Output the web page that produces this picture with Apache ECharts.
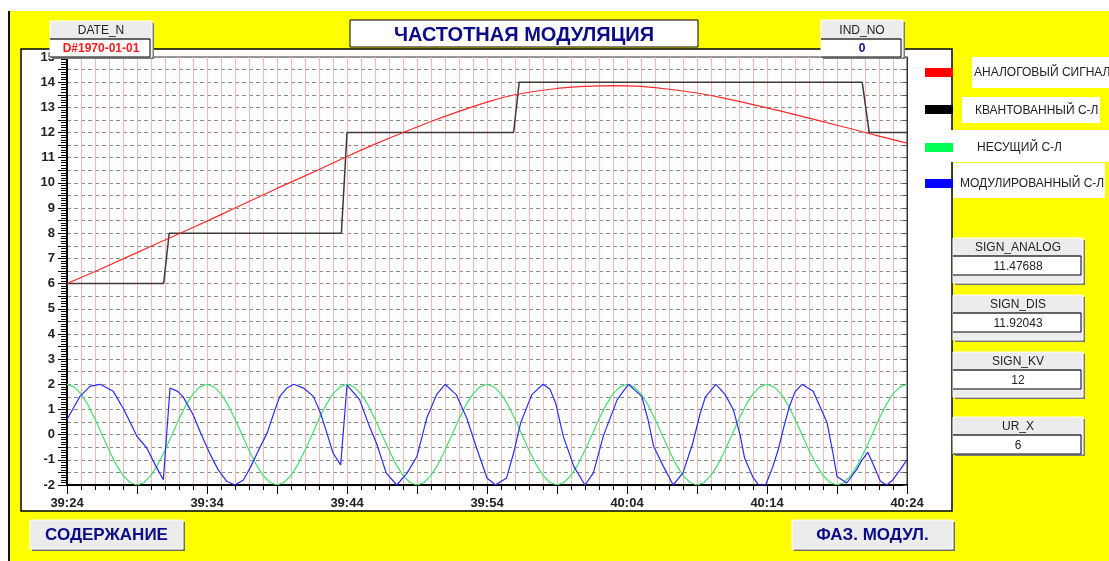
<!DOCTYPE html>
<html>
<head>
<meta charset="utf-8">
<title>ЧАСТОТНАЯ МОДУЛЯЦИЯ</title>
<script src="https://cdn.jsdelivr.net/npm/echarts@6/dist/echarts.min.js"></script>
<style>
  html, body { margin: 0; padding: 0; background: #fff; }
  #chart { width: 1109px; height: 561px; }
</style>
</head>
<body>
<div id="chart"></div>
<script>
// подписи оси времени (каждые 10 с), 0 с = 39:24
const timeLabels = ['39:24', '39:34', '39:44', '39:54', '40:04', '40:14', '40:24']

// аналоговый сигнал, шаг 1 с
const analogValues = [
  6.0, 6.24, 6.48, 6.73, 6.98, 7.23, 7.48, 7.73, 7.98, 8.23,
  8.48, 8.74, 9.0, 9.26, 9.52, 9.78, 10.03, 10.28, 10.53, 10.79,
  11.05, 11.3, 11.54, 11.77, 12.0, 12.22, 12.44, 12.64, 12.84, 13.03,
  13.21, 13.37, 13.5, 13.6, 13.68, 13.75, 13.8, 13.83, 13.85, 13.86,
  13.85, 13.83, 13.78, 13.72, 13.65, 13.57, 13.47, 13.36, 13.24, 13.11,
  12.98, 12.85, 12.71, 12.57, 12.43, 12.29, 12.15, 12.0, 11.86, 11.72,
  11.58
]

// квантованный сигнал: [секунда, уровень]
const quantizedPoints = [
  [0, 6], [6.9, 6], [7.3, 8], [19.6, 8], [20, 12], [31.9, 12],
  [32.3, 14], [56.8, 14], [57.3, 12], [60, 12]
]

// несущий сигнал, шаг 0.5 с
const carrierValues = [
  2, 1.9, 1.62, 1.18, 0.62, 0, -0.62, -1.18, -1.62, -1.9, -2, -1.9, -1.62, -1.18, -0.62, 0, 0.62, 1.18, 1.62, 1.9,
  2, 1.9, 1.62, 1.18, 0.62, 0, -0.62, -1.18, -1.62, -1.9, -2, -1.9, -1.62, -1.18, -0.62, 0, 0.62, 1.18, 1.62, 1.9,
  2, 1.9, 1.62, 1.18, 0.62, 0, -0.62, -1.18, -1.62, -1.9, -2, -1.9, -1.62, -1.18, -0.62, 0, 0.62, 1.18, 1.62, 1.9,
  2, 1.9, 1.62, 1.18, 0.62, 0, -0.62, -1.18, -1.62, -1.9, -2, -1.9, -1.62, -1.18, -0.62, 0, 0.62, 1.18, 1.62, 1.9,
  2, 1.9, 1.62, 1.18, 0.62, 0, -0.62, -1.18, -1.62, -1.9, -2, -1.9, -1.62, -1.18, -0.62, 0, 0.62, 1.18, 1.62, 1.9,
  2, 1.9, 1.62, 1.18, 0.62, 0, -0.62, -1.18, -1.62, -1.9, -2, -1.9, -1.62, -1.18, -0.62, 0, 0.62, 1.18, 1.62, 1.9,
  2
]

// модулированный сигнал: [секунда, значение]
const modulatedPoints = [
  [0, 0.6], [0.5, 1.1], [0.93, 1.52], [1.64, 1.92], [2.36, 2.0], [3.3, 1.72], [4.0, 1.06], [4.5, 0.5],
  [5.0, -0.07], [5.7, -0.53], [6.3, -1.2], [6.88, -1.79], [7.36, 1.85], [7.9, 1.72], [8.3, 1.5],
  [9.0, 0.8], [9.6, 0.0], [10.2, -0.75], [10.8, -1.4], [11.4, -1.85], [12.0, -2.0], [12.6, -1.8],
  [13.1, -1.3], [13.7, -0.6], [14.3, 0.07], [14.8, 0.9], [15.2, 1.52], [15.7, 1.85], [16.2, 2.0],
  [16.9, 1.85], [17.6, 1.52], [18.1, 0.87], [18.6, 0.0], [19.0, -0.73], [19.55, -1.2], [20.0, 1.97],
  [20.5, 1.65], [20.9, 1.39], [21.6, 0.33], [22.1, -0.33], [22.8, -1.52], [23.55, -2.0], [24.3, -1.52],
  [25.0, -0.86], [25.7, 0.66], [26.4, 1.59], [27.0, 2.0], [27.8, 1.59], [28.55, 0.66], [29.3, -0.6],
  [30.0, -1.72], [30.6, -2.0], [31.4, -1.72], [31.9, -0.73], [32.4, 0.46], [33.2, 1.59], [34.0, 2.0],
  [34.5, 1.8], [34.9, 1.26], [35.45, -0.07], [36.2, -1.26], [37.0, -2.0], [37.6, -1.52], [38.3, -0.07],
  [39.3, 1.39], [40.1, 2.0], [41.05, 1.52], [41.5, 0.6], [41.9, -0.46], [42.6, -1.26], [43.3, -2.0],
  [44.0, -1.52], [44.7, -0.33], [45.2, 0.79], [45.6, 1.5], [46.35, 2.0], [47.0, 1.6], [47.6, 0.99],
  [48.1, -0.07], [48.4, -0.93], [49.0, -1.7], [49.4, -2.0], [49.9, -2.0], [50.4, -1.3], [50.8, -0.6],
  [51.2, 0.3], [51.6, 1.12], [52.0, 1.7], [52.5, 2.0], [53.3, 1.72], [53.8, 1.1], [54.3, 0.46],
  [54.7, -0.7], [55.0, -1.66], [55.7, -1.92], [56.4, -1.39], [56.8, -1.0], [57.2, -0.7], [57.6, -1.2],
  [58.1, -1.85], [58.55, -2.0], [59.0, -1.79], [59.5, -1.4], [60, -1.0]
]

const seriesNames = ['АНАЛОГОВЫЙ СИГНАЛ', 'КВАНТОВАННЫЙ С-Л', 'НЕСУЩИЙ С-Л', 'МОДУЛИРОВАННЫЙ С-Л']
const lineColors = ['#ff2a2a', '#3a3a3a', '#3fe36c', '#2a2aff']
const swatchColors = ['#ff0000', '#000000', '#00ff55', '#0000ff']

// поля справа
const fieldNames = ['SIGN_ANALOG', 'SIGN_DIS', 'SIGN_KV', 'UR_X']
const fieldValues = ['11.47688', '11.92043', '12', '6']

const FONT = '"Liberation Sans", Arial, sans-serif'
const NAVY = '#0c0c86'

// поле с заголовком и значением
function field(x, y, w, hHead, hVal, foot, title, value, valueFont, valueColor) {
  const h = hHead + hVal + foot
  const vy = y + hHead
  return [
    { type: 'rect', z: 100, shape: { x: x + 2, y: y + 2, width: w, height: h }, style: { fill: '#7a7a7a' } },
    { type: 'rect', z: 101, shape: { x: x, y: y, width: w, height: h }, style: { fill: '#ececec', stroke: '#ffffff', lineWidth: 1 } },
    { type: 'text', z: 103, style: { text: title, x: x + w / 2, y: y + hHead / 2 + 1, align: 'center', verticalAlign: 'middle', font: '12px ' + FONT, fill: '#222' } },
    { type: 'rect', z: 102, shape: { x: x, y: vy, width: w - 2, height: hVal }, style: { fill: '#ffffff' } },
    { type: 'polyline', z: 103, shape: { points: [[x, vy], [x + w - 2, vy]] }, style: { stroke: '#333', lineWidth: 1.5 } },
    { type: 'polyline', z: 103, shape: { points: [[x + w - 2, vy], [x + w - 2, vy + hVal], [x, vy + hVal]] }, style: { stroke: '#000', lineWidth: 1 } },
    { type: 'text', z: 103, style: { text: value, x: x + w / 2, y: vy + hVal / 2 + 1, align: 'center', verticalAlign: 'middle', font: valueFont, fill: valueColor } }
  ]
}

function button(x, y, w, h, label) {
  return [
    { type: 'rect', z: 100, shape: { x: x + 2, y: y + 2, width: w, height: h }, style: { fill: '#6f6f6f' } },
    { type: 'rect', z: 101, shape: { x: x, y: y, width: w, height: h }, style: { fill: '#ececec', stroke: '#ffffff', lineWidth: 1 } },
    { type: 'text', z: 102, style: { text: label, x: x + w / 2, y: y + h / 2 + 1, align: 'center', verticalAlign: 'middle', font: 'bold 17px ' + FONT, fill: NAVY } }
  ]
}

let graphics = [
  // фон
  { type: 'rect', z: -20, shape: { x: 10, y: 11, width: 1099, height: 550 }, style: { fill: '#ffff00' } },
  { type: 'rect', z: -19, shape: { x: 8, y: 11, width: 2, height: 550 }, style: { fill: '#111' } },
  { type: 'rect', z: -18, shape: { x: 21, y: 49, width: 931, height: 462 }, style: { fill: '#fff', stroke: '#000', lineWidth: 1.5 } },
  // заголовок
  { type: 'rect', z: 50, shape: { x: 350, y: 20, width: 348, height: 27 }, style: { fill: '#fff', stroke: '#000', lineWidth: 1 } },
  { type: 'text', z: 51, style: { text: 'ЧАСТОТНАЯ МОДУЛЯЦИЯ', x: 524, y: 35, align: 'center', verticalAlign: 'middle', font: 'bold 20px ' + FONT, fill: NAVY } },
  // белые подложки подписей легенды
  { type: 'rect', z: 10, shape: { x: 972, y: 57, width: 137, height: 31 }, style: { fill: '#fff' } },
  { type: 'rect', z: 10, shape: { x: 962, y: 97, width: 138, height: 26 }, style: { fill: '#fff' } },
  { type: 'rect', z: 10, shape: { x: 951, y: 130, width: 158, height: 32 }, style: { fill: '#fff' } },
  { type: 'rect', z: 10, shape: { x: 953, y: 163, width: 152, height: 35 }, style: { fill: '#fff' } }
]

const legendSwatchY = [68, 105, 143, 179]
const legendText = [[974, 73], [975, 111], [977, 148], [960, 184]]
seriesNames.forEach((name, i) => {
  graphics.push({ type: 'rect', z: 11, shape: { x: 925, y: legendSwatchY[i], width: 28, height: 9 }, style: { fill: swatchColors[i] } })
  graphics.push({ type: 'text', z: 12, style: { text: name, x: legendText[i][0], y: legendText[i][1], verticalAlign: 'middle', font: '12px ' + FONT, fill: '#222' } })
})

graphics = graphics.concat(
  field(50, 21, 102, 18, 18, 0, 'DATE_N', 'D#1970-01-01', 'bold 12px ' + FONT, '#ff1a1a'),
  field(821, 20, 82, 19, 18, 0, 'IND_NO', '0', 'bold 12px ' + FONT, NAVY)
)
const fieldY = [238, 295, 352, 417]
fieldNames.forEach((name, i) => {
  graphics = graphics.concat(field(953, fieldY[i], 130, 18, 19, i < 3 ? 8 : 0, name, fieldValues[i], '12px ' + FONT, '#222'))
})
graphics = graphics.concat(button(30, 520, 153, 29, 'СОДЕРЖАНИЕ'), button(792, 520, 161, 29, 'ФАЗ. МОДУЛ.'))

const labelFont = { fontFamily: FONT, fontWeight: 'bold', fontSize: 13, color: '#222' }

const option = {
  animation: false,
  // рамка области графика (верх и право)
  grid: { left: 67, top: 57, right: 202, bottom: 76, containLabel: false, show: true, borderColor: '#333', borderWidth: 1, backgroundColor: 'transparent' },
  graphic: graphics,
  xAxis: [
    {
      // секундная сетка и короткие риски
      // пунктир здесь не рисуется, поэтому линия сплошная светло-красная
      type: 'value', min: 0, max: 60, interval: 1, position: 'bottom',
      axisLine: { onZero: false, lineStyle: { color: '#000', width: 2 } },
      axisTick: { length: 5, lineStyle: { color: '#000' } },
      axisLabel: Object.assign({ margin: 12, formatter: v => (v % 10 === 0 ? timeLabels[v / 10] : '') }, labelFont),
      splitLine: { show: true, lineStyle: { color: '#ffb4b4', type: 'solid', width: 1 } }
    },
    {
      // длинные риски каждые 5 с
      type: 'value', min: 0, max: 60, interval: 5, position: 'bottom',
      axisLine: { show: false, onZero: false },
      axisTick: { show: true, length: 9, lineStyle: { color: '#000' } },
      axisLabel: { show: false }, splitLine: { show: false }
    }
  ],
  yAxis: [
    {
      type: 'value', min: -2, max: 15, interval: 0.5, position: 'left',
      axisLine: { show: true, onZero: false, lineStyle: { color: '#000', width: 2 } },
      axisTick: { show: true, length: 9, lineStyle: { color: '#000' } },
      minorTick: { show: true, splitNumber: 5, length: 6, lineStyle: { color: '#000' } },
      axisLabel: Object.assign({ margin: 12, formatter: v => (Number.isInteger(v) ? v : '') }, labelFont),
      splitLine: { show: true, lineStyle: { color: '#8c8c8c', type: [4, 3], width: 1 } }
    },
    {
      type: 'value', position: 'right', min: -2, max: 15, interval: 0.5,
      axisLine: { show: true, onZero: false, lineStyle: { color: '#333', width: 1 } },
      axisTick: { show: true, inside: true, length: 4, lineStyle: { color: '#555' } },
      axisLabel: { show: false }, splitLine: { show: false }
    }
  ],
  series: [
    { name: seriesNames[0], type: 'line', showSymbol: false, data: analogValues.map((v, i) => [i, v]), lineStyle: { color: lineColors[0], width: 1.2 }, z: 4 },
    { name: seriesNames[1], type: 'line', showSymbol: false, data: quantizedPoints, lineStyle: { color: lineColors[1], width: 1.5 }, z: 3 },
    { name: seriesNames[2], type: 'line', showSymbol: false, data: carrierValues.map((v, i) => [i * 0.5, v]), lineStyle: { color: lineColors[2], width: 1.2 }, z: 3 },
    { name: seriesNames[3], type: 'line', showSymbol: false, data: modulatedPoints, lineStyle: { color: lineColors[3], width: 1.2 }, z: 4 }
  ]
}

const myChart = echarts.init(document.getElementById('chart'))
myChart.setOption(option)
</script>
</body>
</html>
